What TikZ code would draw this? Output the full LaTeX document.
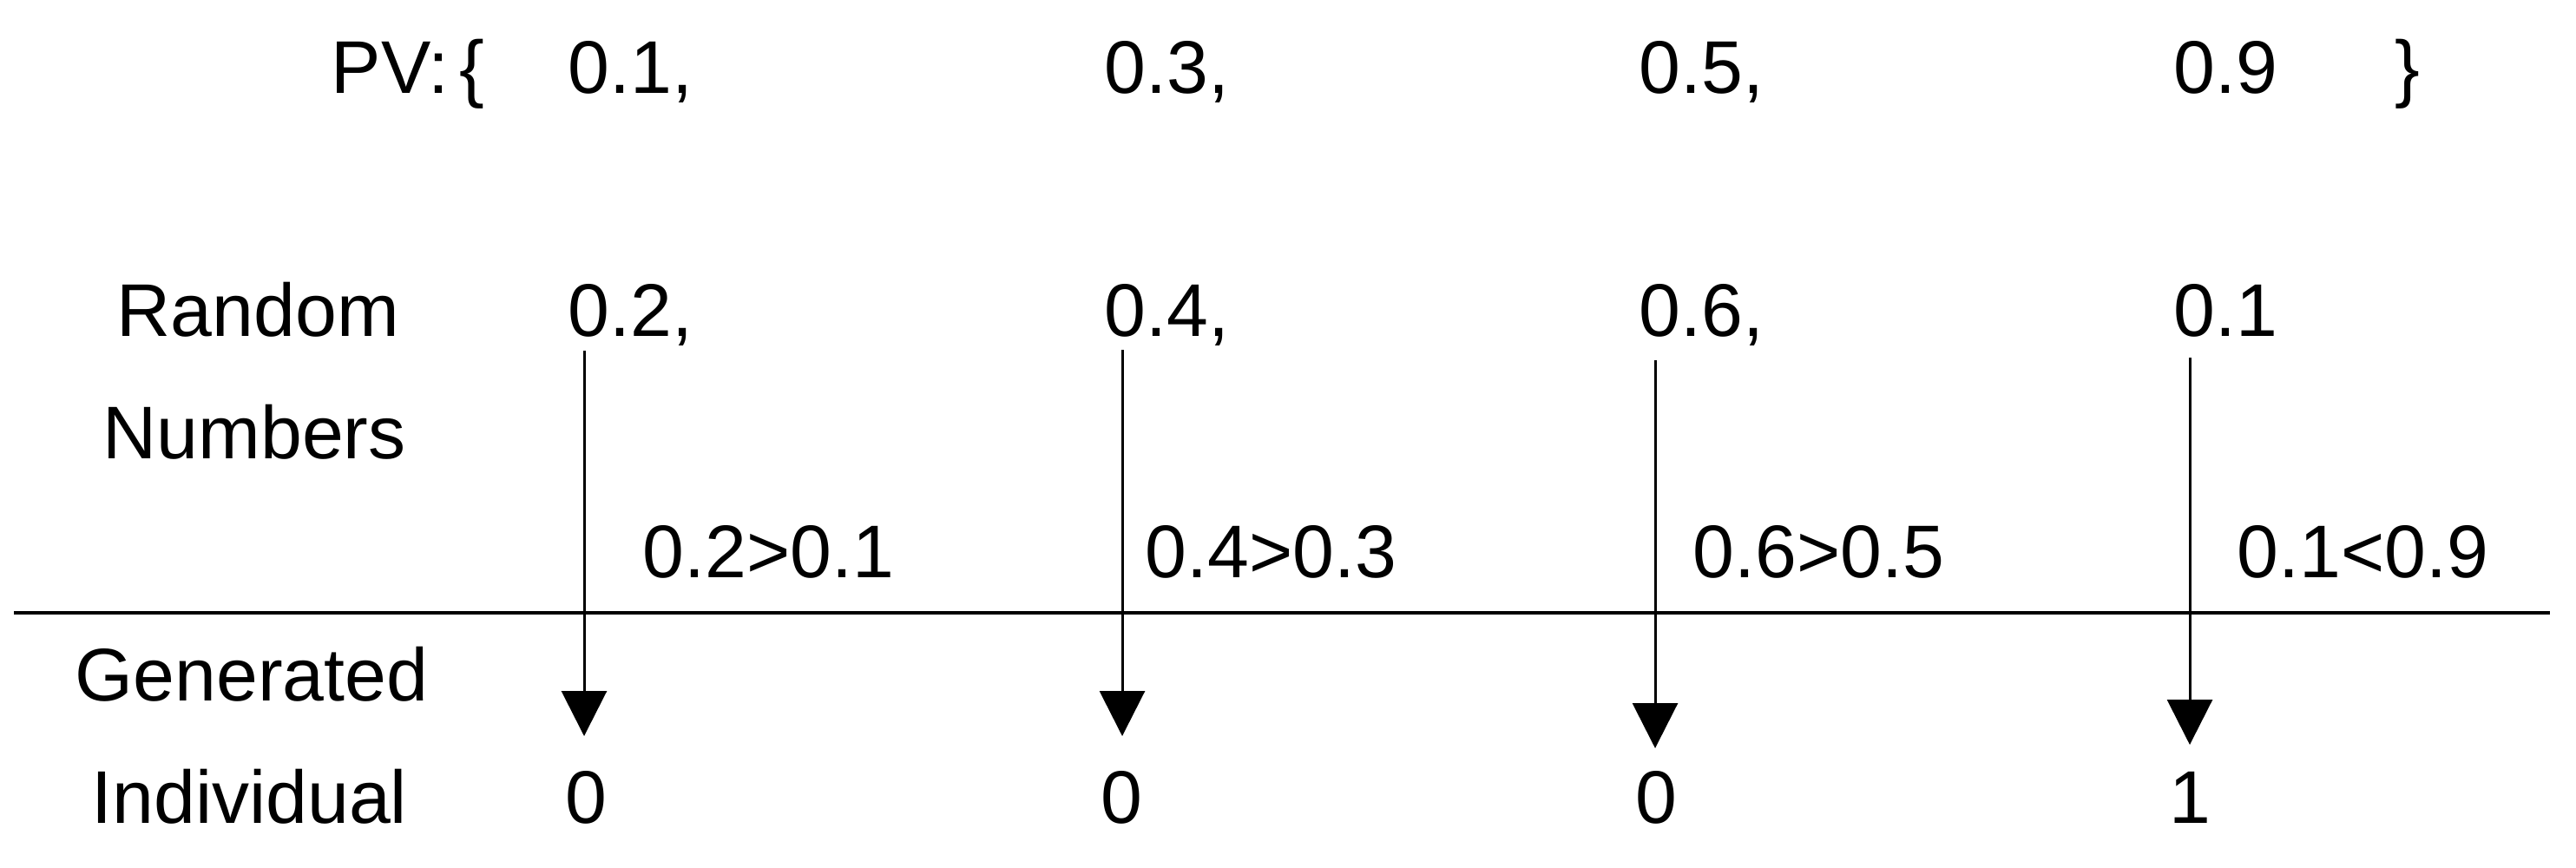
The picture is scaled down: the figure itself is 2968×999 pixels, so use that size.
\documentclass[tikz,border=0pt]{standalone}
\usepackage{fontspec}
\setmainfont{Liberation Sans}
\usetikzlibrary{arrows.meta}
\begin{document}
\begin{tikzpicture}[x=0.25pt,y=-0.25pt,
  txt/.style={anchor=base west,inner sep=0pt,font=\fontsize{21.5pt}{26pt}\selectfont},
  ctxt/.style={anchor=base,inner sep=0pt,font=\fontsize{21.5pt}{26pt}\selectfont},
  conn/.style={line width=0.75pt,-{Triangle[width=13pt,length=13pt]}},
  rule/.style={line width=1.1pt}]
\useasboundingbox (0,0) rectangle (2968,999);
% row 1
\node[txt] (pv) at (381,107) {PV:};
\node[txt] (lb) at (529,107) {\{};
\node[txt] (p1) at (654,107) {0.1,};
\node[txt] (p2) at (1272,107) {0.3,};
\node[txt] (p3) at (1888,107) {0.5,};
\node[txt] (p4) at (2504,107) {0.9};
\node[txt] (rb) at (2759,107) {\}};
% row 2
\node[txt] (rand) at (134,387) {Random};
\node[txt] (num) at (118,528) {Numbers};
\node[txt] (r1) at (654,387) {0.2,};
\node[txt] (r2) at (1272,387) {0.4,};
\node[txt] (r3) at (1888,387) {0.6,};
\node[txt] (r4) at (2504,387) {0.1};
% comparisons
\node[txt] (c1) at (740,665) {0.2>0.1};
\node[txt] (c2) at (1319,665) {0.4>0.3};
\node[txt] (c3) at (1950,665) {0.6>0.5};
\node[txt] (c4) at (2577,665) {0.1<0.9};
% separator
\coordinate (hl) at (16,706);
\coordinate (hr) at (2938,706);
\draw[rule] (hl) -- (hr);
% bottom labels
\node[txt] (gen) at (86,807) {Generated};
\node[txt] (ind) at (105,948) {Individual};
\node[ctxt] (o1) at (675,948) {0};
\node[ctxt] (o2) at (1292,948) {0};
\node[ctxt] (o3) at (1908,948) {0};
\node[ctxt] (o4) at (2523,948) {1};
% arrows
\coordinate (a1s) at (673,404); \coordinate (a1e) at (673,848);
\coordinate (a2s) at (1293,403); \coordinate (a2e) at (1293,848);
\coordinate (a3s) at (1907,415); \coordinate (a3e) at (1907,862);
\coordinate (a4s) at (2523,412); \coordinate (a4e) at (2523,858);
\draw[conn] (a1s) -- (a1e);
\draw[conn] (a2s) -- (a2e);
\draw[conn] (a3s) -- (a3e);
\draw[conn] (a4s) -- (a4e);
\end{tikzpicture}
\end{document}
